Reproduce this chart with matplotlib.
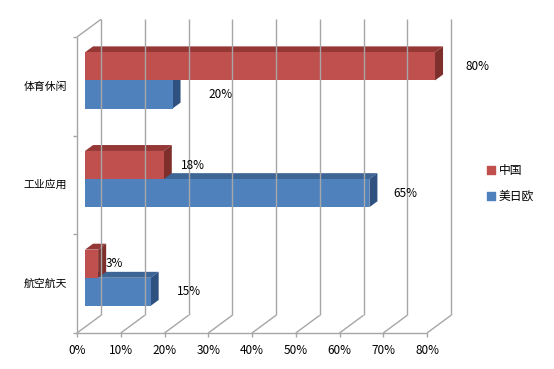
import matplotlib
matplotlib.use("Agg")
import matplotlib.pyplot as plt
from matplotlib.patches import Polygon

plt.rcParams['font.family'] = ['Noto Sans CJK SC', 'DejaVu Sans']

# --- DATA ---
categories = ["航空航天", "工业应用", "体育休闲"]   # bottom -> top
china = [3, 18, 80]
usjpeu = [15, 65, 20]
series_names = ["中国", "美日欧"]
ticks = [0, 10, 20, 30, 40, 50, 60, 70, 80]
tick_labels = ["0%", "10%", "20%", "30%", "40%", "50%", "60%", "70%", "80%"]

# --- STYLE ---
RED = ("#C0504D", "#953735", "#7E2F2C")    # front, top, side
BLUE = ("#4F81BD", "#3D6596", "#2E5180")
GRID = "#A6A6A6"
DX, DY = 5.5, 0.18        # depth of the floor (in data units)
BH = 0.285                # bar height
# label nudges: china (3%, 18%, 80%), usjpeu (15%, 65%, 20%)
label_dx = [1.7, 4.0, 7.0, 6.0, 5.5, 8.3]

fig = plt.figure(figsize=(5.54, 3.69), dpi=100)
ax = fig.add_axes([77 / 554, 36 / 369, 350 / 554, 296 / 369])
ax.set_xlim(0, 80)
ax.set_ylim(0, 3)
ax.axis("off")

def line(xs, ys, **kw):
    ax.plot(xs, ys, color=GRID, lw=1.0, clip_on=False, solid_capstyle="butt", **kw)

# walls / grid
for t in ticks:
    line([t + DX, t + DX], [DY, 3 + DY])
    line([t, t + DX], [0, DY])
    line([t, t], [0, -0.04])
line([0, 80], [0, 0])
line([0, 0], [0, 3])
line([0, DX], [3, 3 + DY])
for k in range(4):
    line([0, -0.9], [k, k])

for t, lab in zip(ticks, tick_labels):
    ax.text(t, -0.18, lab, ha="center", va="center", fontsize=8.5)
for i, c in enumerate(categories):
    ax.text(-2.2, i + 0.5, c, ha="right", va="center", fontsize=7.8)

def bar3d(v, y0, cols):
    fx, fy = DX / 3, DY / 3
    bx, by = DX / 3, DY / 3
    x0, x1 = fx, v + fx
    yb, yt = y0 + fy, y0 + BH + fy
    ax.add_patch(Polygon([(x0, yt), (x1, yt), (x1 + bx, yt + by), (x0 + bx, yt + by)],
                         closed=True, fc=cols[1], ec="none", clip_on=False))
    ax.add_patch(Polygon([(x1, yb), (x1, yt), (x1 + bx, yt + by), (x1 + bx, yb + by)],
                         closed=True, fc=cols[2], ec="none", clip_on=False))
    ax.add_patch(Polygon([(x0, yb), (x1, yb), (x1, yt), (x0, yt)],
                         closed=True, fc=cols[0], ec="none", clip_on=False))
    return (yb + yt) / 2

centers = []
for i in range(len(categories)):
    yc = i + 0.5
    cb = bar3d(usjpeu[i], yc - BH, BLUE)
    cr = bar3d(china[i], yc, RED)
    centers.append((cr, cb))

for i in range(len(categories)):
    ax.text(china[i] + DX / 3 + label_dx[i], centers[i][0], f"{china[i]}%",
            ha="left", va="center", fontsize=8.5)
    ax.text(usjpeu[i] + DX / 3 + label_dx[3 + i], centers[i][1], f"{usjpeu[i]}%",
            ha="left", va="center", fontsize=8.5)

# legend
for k, (name, col) in enumerate(zip(series_names, [RED[0], BLUE[0]])):
    yl = 1.65 - k * 0.265
    ax.scatter([94.6], [yl], marker="s", s=30, color=col, clip_on=False)
    ax.text(96.4, yl, name, ha="left", va="center", fontsize=8.5)

fig.savefig("out.png", dpi=100)
